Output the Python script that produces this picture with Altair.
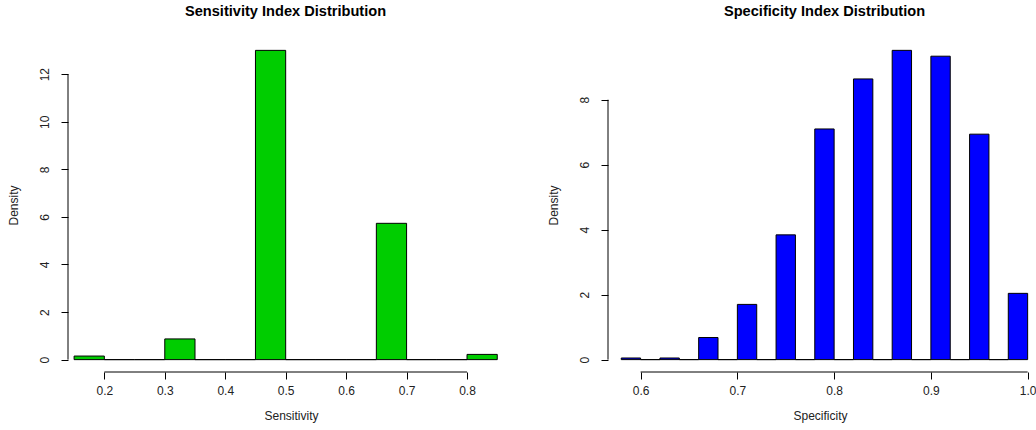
import altair as alt
import pandas as pd

# Sensitivity histogram: bin edges (width 0.05) and densities
sens_lo = [0.15, 0.20, 0.25, 0.30, 0.35, 0.40, 0.45, 0.50, 0.55, 0.60, 0.65, 0.70, 0.75, 0.80]
sens_hi = [0.20, 0.25, 0.30, 0.35, 0.40, 0.45, 0.50, 0.55, 0.60, 0.65, 0.70, 0.75, 0.80, 0.85]
sens_density = [0.15, 0, 0, 0.87, 0, 0, 13.0, 0, 0, 0, 5.73, 0, 0, 0.22]

# Specificity histogram: bin edges (width 0.02) and densities
spec_lo = [0.58, 0.60, 0.62, 0.64, 0.66, 0.68, 0.70, 0.72, 0.74, 0.76, 0.78,
           0.80, 0.82, 0.84, 0.86, 0.88, 0.90, 0.92, 0.94, 0.96, 0.98]
spec_hi = [0.60, 0.62, 0.64, 0.66, 0.68, 0.70, 0.72, 0.74, 0.76, 0.78, 0.80,
           0.82, 0.84, 0.86, 0.88, 0.90, 0.92, 0.94, 0.96, 0.98, 1.00]
spec_density = [0.05, 0, 0.05, 0, 0.68, 0, 1.70, 0, 3.84, 0, 7.10,
                0, 8.64, 0, 9.52, 0, 9.34, 0, 6.94, 0, 2.04]

# Axis tick values
sens_xticks = [0.2, 0.3, 0.4, 0.5, 0.6, 0.7, 0.8]
sens_yticks = [0, 2, 4, 6, 8, 10, 12]
spec_xticks = [0.6, 0.7, 0.8, 0.9, 1.0]
spec_yticks = [0, 2, 4, 6, 8]

FONT = "Liberation Sans"
H = 334


def histogram(lo, hi, dens, xticks, yticks, xdom, ydom, width, color,
              title, xtitle, title_dx):
    df = pd.DataFrame({"lo": lo, "hi": hi, "density": dens})
    xs = alt.Scale(domain=xdom, nice=False, zero=False)
    ys = alt.Scale(domain=ydom, nice=False, zero=False)

    bars = alt.Chart(df).mark_rect(
        color=color, stroke="black", strokeWidth=1
    ).encode(
        x=alt.X("lo:Q", scale=xs, axis=alt.Axis(
            values=xticks, format=".1f", domain=False, grid=False,
            tickSize=7, tickColor="black", tickWidth=1,
            labelFont=FONT, labelFontSize=12, labelColor="#222222",
            labelPadding=6,
            title=xtitle, titleFont=FONT, titleFontSize=12,
            titleFontWeight="normal", titleColor="#222222", titlePadding=14)),
        x2="hi:Q",
        y=alt.Y("density:Q", scale=ys, axis=alt.Axis(
            values=yticks, format="d", domain=False, grid=False,
            tickSize=7, tickColor="black", tickWidth=1,
            labelFont=FONT, labelFontSize=12, labelColor="#222222",
            labelAngle=270, labelAlign="center", labelBaseline="bottom",
            labelPadding=10,
            title="Density", titleFont=FONT, titleFontSize=12,
            titleFontWeight="normal", titleColor="#222222", titlePadding=18)),
        y2=alt.datum(0),
    )

    # axis lines spanning first to last tick only
    xline = alt.Chart(pd.DataFrame({"a": [xticks[0]], "b": [xticks[-1]]})).mark_rule(
        color="black", strokeWidth=1
    ).encode(x=alt.X("a:Q", scale=xs), x2="b:Q", y=alt.value(H))

    yline = alt.Chart(pd.DataFrame({"a": [yticks[0]], "b": [yticks[-1]]})).mark_rule(
        color="black", strokeWidth=1
    ).encode(y=alt.Y("a:Q", scale=ys), y2="b:Q", x=alt.value(0))

    return alt.layer(bars, xline, yline).properties(
        width=width, height=H,
        title=alt.TitleParams(title, font=FONT, fontSize=14.6, fontWeight="bold",
                              color="black", anchor="middle", dx=title_dx,
                              offset=19),
    )


left = histogram(sens_lo, sens_hi, sens_density, sens_xticks, sens_yticks,
                 [0.1399, 0.8777], [-0.52, 13.52], 446, "#00CD00",
                 "Sensitivity Index Distribution", "Sensitivity", -5.5)

right = histogram(spec_lo, spec_hi, spec_density, spec_xticks, spec_yticks,
                  [0.5663, 1.0045], [-0.381, 9.90], 424, "#0000FF",
                  "Specificity Index Distribution", "Specificity", 4.5)

chart = alt.hconcat(left, right, spacing=94, bounds="flush").properties(
    padding={"left": 7, "top": 4, "right": 0, "bottom": 6},
    background="white",
).configure_view(stroke=None)

chart.save("out.html", embed_options={"renderer": "svg", "actions": False})
